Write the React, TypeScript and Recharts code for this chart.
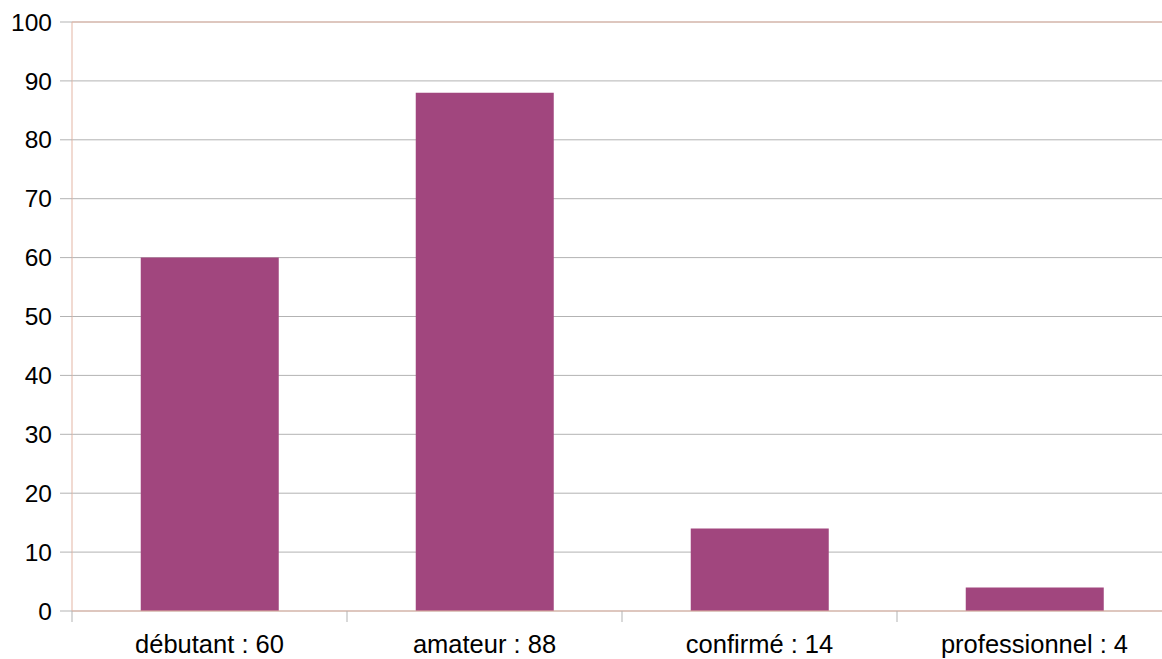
import { BarChart, Bar, XAxis, YAxis, CartesianGrid, ReferenceLine } from 'recharts';

const levels = ['débutant', 'amateur', 'confirmé', 'professionnel'];
const counts = [60, 88, 14, 4];
const yTicks = [0, 10, 20, 30, 40, 50, 60, 70, 80, 90, 100];

const data = levels.map((name, i) => ({ name: `${name} : ${counts[i]}`, value: counts[i] }));

const axisColor = '#e3b5a4';
const gridColor = '#b3b3b3';
const font = '"Liberation Sans", Arial, sans-serif';

// category ticks sit on the band edges, label in the middle
const EdgeTick = (props: any) => {
  const { x, y, payload, index, visibleTicksCount } = props;
  const off = payload.offset ?? 0;
  return (
    <g>
      <line x1={x - off} x2={x - off} y1={y} y2={y + 11} stroke={gridColor} />
      {index === visibleTicksCount - 1 && (
        <line x1={x + off} x2={x + off} y1={y} y2={y + 11} stroke={gridColor} />
      )}
      <text x={x} y={y + 42} textAnchor="middle" fill="#000" fontSize={25.5} fontFamily={font}>
        {payload.value}
      </text>
    </g>
  );
};

export default function App() {
  return (
    <div style={{ position: 'fixed', left: 0, top: 0, width: 1162, height: 659, overflow: 'hidden', background: '#fff' }}>
      <BarChart width={1200} height={659} data={data} margin={{ top: 22, right: 28, bottom: 0, left: 0 }} barCategoryGap="25%">
        <CartesianGrid vertical={false} stroke={gridColor} />
        <XAxis
          dataKey="name"
          height={48}
          tickSize={0}
          tickMargin={0}
          tickLine={false}
          axisLine={{ stroke: axisColor }}
          tick={<EdgeTick />}
          interval={0}
        />
        <YAxis
          width={72}
          domain={[0, 100]}
          ticks={yTicks}
          tickSize={12}
          tickMargin={8}
          tickLine={{ stroke: gridColor }}
          axisLine={{ stroke: axisColor }}
          tick={{ fill: '#000', fontSize: 24.5, fontFamily: font }}
        />
        <ReferenceLine y={100} stroke={axisColor} />
        <Bar dataKey="value" fill="#a1467e" isAnimationActive={false} />
      </BarChart>
    </div>
  );
}
